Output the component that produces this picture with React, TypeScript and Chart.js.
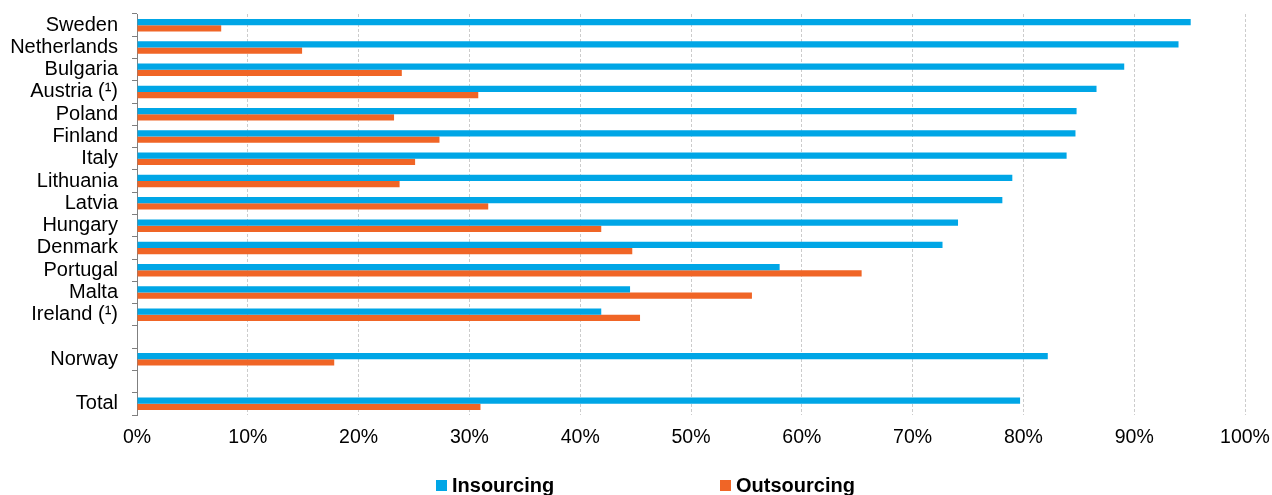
import React, { useEffect, useRef } from 'react';
import { Chart, registerables } from 'chart.js';

Chart.register(...registerables);

// Share of enterprises (%) by country
const categories = [
  'Sweden', 'Netherlands', 'Bulgaria', 'Austria (¹)', 'Poland', 'Finland', 'Italy',
  'Lithuania', 'Latvia', 'Hungary', 'Denmark', 'Portugal', 'Malta', 'Ireland (¹)',
  '', 'Norway', '', 'Total',
];
const insourcing = [
  95.1, 94.0, 89.1, 86.6, 84.8, 84.7, 83.9, 79.0, 78.1, 74.1, 72.7, 58.0, 44.5, 41.9,
  null, 82.2, null, 79.7,
];
const outsourcing = [
  7.6, 14.9, 23.9, 30.8, 23.2, 27.3, 25.1, 23.7, 31.7, 41.9, 44.7, 65.4, 55.5, 45.4,
  null, 17.8, null, 31.0,
];
const seriesNames = ['Insourcing', 'Outsourcing'];
const xTickValues = [0, 10, 20, 30, 40, 50, 60, 70, 80, 90, 100];

const BLUE = '#00A6E6';
const ORANGE = '#F06526';
const FONT = '"Liberation Sans", Arial, sans-serif';

// Fix the plot frame: no automatic label overhang padding around the axes.
const clearPadding = (scale: any) => {
  scale.paddingTop = 0;
  scale.paddingBottom = 0;
  scale.paddingLeft = 0;
  scale.paddingRight = 0;
};

export default function App() {
  const canvasRef = useRef<HTMLCanvasElement | null>(null);

  useEffect(() => {
    const canvas = canvasRef.current;
    if (!canvas) return;
    const chart = new Chart(canvas, {
      type: 'bar',
      data: {
        labels: categories,
        datasets: [
          {
            label: seriesNames[0],
            data: insourcing,
            backgroundColor: BLUE,
            borderWidth: 0,
            categoryPercentage: 0.56,
            barPercentage: 1.0,
          },
          {
            label: seriesNames[1],
            data: outsourcing,
            backgroundColor: ORANGE,
            borderWidth: 0,
            categoryPercentage: 0.56,
            barPercentage: 1.0,
          },
        ],
      },
      options: {
        indexAxis: 'y',
        responsive: false,
        animation: false,
        layout: { padding: { top: 14, right: 27, bottom: 0, left: 0 } },
        plugins: {
          legend: { display: false },
          tooltip: { enabled: false },
        },
        scales: {
          x: {
            min: 0,
            max: 100,
            afterBuildTicks: (scale: any) => {
              scale.ticks = xTickValues.map((v) => ({ value: v }));
            },
            afterFit: (scale: any) => {
              scale.height = 80;
              clearPadding(scale);
            },
            ticks: {
              callback: (v: any) => `${v}%`,
              color: '#000',
              font: { family: FONT, size: 19.5 },
              padding: 11,
              maxRotation: 0,
            },
            grid: {
              color: '#cccccc',
              lineWidth: 1,
              drawTicks: false,
            },
            border: { display: false, dash: [3, 2] },
          },
          y: {
            afterFit: (scale: any) => {
              scale.width = 137;
              clearPadding(scale);
            },
            ticks: {
              color: '#000',
              font: { family: FONT, size: 20 },
              padding: 14,
              autoSkip: false,
            },
            grid: {
              display: true,
              drawOnChartArea: false,
              drawTicks: true,
              tickLength: 5,
              color: '#7f7f7f',
              offset: true,
            },
            border: { display: true, color: '#7f7f7f', width: 1 },
          },
        },
      },
    } as any);
    return () => chart.destroy();
  }, []);

  const legendText: React.CSSProperties = {
    position: 'absolute',
    font: `bold 20px ${FONT}`,
    lineHeight: '20px',
    color: '#000',
    whiteSpace: 'nowrap',
  };

  return (
    <div
      style={{
        position: 'fixed',
        left: 0,
        top: 0,
        width: 1272,
        height: 495,
        overflow: 'hidden',
        background: '#fff',
      }}
    >
      <canvas ref={canvasRef} width={1272} height={495} style={{ display: 'block' }} />
      <div style={{ position: 'absolute', left: 436, top: 480, width: 11, height: 11, background: BLUE }} />
      <span style={{ ...legendText, left: 452, top: 475 }}>{seriesNames[0]}</span>
      <div style={{ position: 'absolute', left: 720, top: 480, width: 11, height: 11, background: ORANGE }} />
      <span style={{ ...legendText, left: 736, top: 475 }}>{seriesNames[1]}</span>
    </div>
  );
}
